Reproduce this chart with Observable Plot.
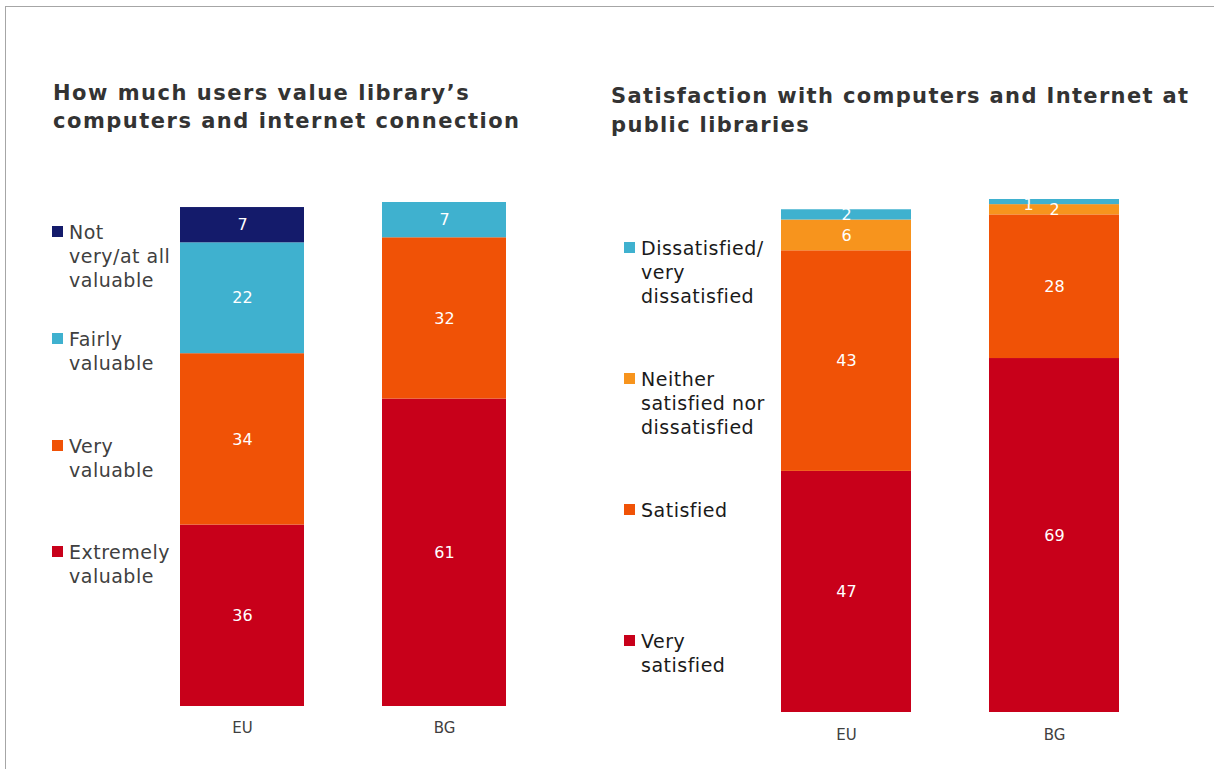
<!DOCTYPE html>
<html><head><meta charset="utf-8">
<script src="https://cdn.jsdelivr.net/npm/d3@7"></script>
<script src="https://cdn.jsdelivr.net/npm/@observablehq/plot@0.6"></script>
<style>
body{margin:0;background:#fff;font-family:"DejaVu Sans",Verdana,sans-serif;}
#wrap{position:relative;width:1214px;height:769px;overflow:hidden;background:#fff;}
.frame{position:absolute;left:5px;top:6px;width:1240px;height:820px;border-left:1.5px solid #a6a6a6;border-top:1.5px solid #a6a6a6;}
.title{position:absolute;font-weight:bold;font-size:21px;line-height:28px;color:#333;white-space:nowrap;}
.item{position:absolute;display:flex;font-size:19px;line-height:24px;white-space:nowrap;letter-spacing:0.5px;}
.sw{width:11px;height:11px;margin-top:6px;margin-right:6px;flex:none;}
.plot{position:absolute;top:0;}
</style></head>
<body>
<div id="wrap">
  <div class="frame"></div>
</div>
<script>
const countries = ["EU", "BG"];

const valueCats = ["Extremely valuable", "Very valuable", "Fairly valuable", "Not very/at all valuable"];
const valueLegend = [["Extremely", "valuable"], ["Very", "valuable"], ["Fairly", "valuable"], ["Not", "very/at all", "valuable"]];
const valueEU = [36, 34, 22, 7];
const valueBG = [61, 32, 7, 0];
const valueColors = ["#c8001a", "#f05206", "#3fb1cf", "#141b6b"];
const valueTitle = ["How much users value library’s", "computers and internet connection"];

const satCats = ["Very satisfied", "Satisfied", "Neither satisfied nor dissatisfied", "Dissatisfied/very dissatisfied"];
const satLegend = [["Very", "satisfied"], ["Satisfied"], ["Neither", "satisfied nor", "dissatisfied"], ["Dissatisfied/", "very", "dissatisfied"]];
const satEU = [47, 43, 6, 2];
const satBG = [69, 28, 2, 1];
const satColors = ["#c8001a", "#f05206", "#f7941d", "#3fb1cf"];
const satTitle = ["Satisfaction with computers and Internet at", "public libraries"];

const wrap = document.getElementById("wrap");

function chart({cats, eu, bg, colors, left, width, marginTop, marginBottom, xRange, padIn, tickPad}) {
  const rows = [];
  countries.forEach((c, i) => {
    const vals = i ? bg : eu;
    cats.forEach((k, j) => { if (vals[j] > 0) rows.push({country: c, cat: k, value: vals[j]}); });
  });
  const svg = Plot.plot({
    width, height: 769, marginTop, marginBottom, marginLeft: 0, marginRight: 0,
    style: {background: "transparent", fontFamily: "DejaVu Sans, Verdana, sans-serif", overflow: "visible"},
    x: {domain: countries, range: xRange, paddingInner: padIn, paddingOuter: 0},
    y: {domain: [0, 100], axis: null},
    color: {domain: cats, range: colors},
    marks: [
      Plot.barY(rows, Plot.stackY({x: "country", y: "value", fill: "cat"})),
      Plot.text(rows, Plot.stackY({x: "country", y: "value", text: d => d.value >= 2 ? String(d.value) : "", fill: "white", fontSize: 16})),
      Plot.text(rows, Plot.stackY({x: "country", y: "value", text: d => d.value < 2 ? String(d.value) : "", fill: "white", fontSize: 16, dx: -26, dy: 3})),
      Plot.axisX({tickSize: 0, tickPadding: tickPad, fontSize: 15, color: "#404040", label: null})
    ]
  });
  svg.classList.add("plot");
  svg.style.left = left + "px";
  svg.style.position = "absolute";
  svg.style.top = "0px";
  wrap.appendChild(svg);
}

chart({cats: valueCats, eu: valueEU, bg: valueBG, colors: valueColors, left: 0, width: 600,
  marginTop: 202, marginBottom: 63, xRange: [180, 507], padIn: 0.384, tickPad: 16});
chart({cats: satCats, eu: satEU, bg: satBG, colors: satColors, left: 600, width: 614,
  marginTop: 199, marginBottom: 57, xRange: [181, 520], padIn: 0.373, tickPad: 17});

function title(lines, left, top, lh, ls) {
  const d = document.createElement("div");
  d.className = "title";
  d.style.left = left + "px"; d.style.top = top + "px"; d.style.lineHeight = lh + "px";
  d.style.letterSpacing = ls + "px";
  d.innerHTML = lines.join("<br>");
  wrap.appendChild(d);
}
title(valueTitle, 53, 79, 28, 1.5);
title(satTitle, 611, 82, 29, 1.35);

function legend(labels, colors, left, tops, textColor) {
  labels.forEach((lines, i) => {
    const it = document.createElement("div");
    it.className = "item";
    it.style.left = left + "px"; it.style.top = tops[i] + "px"; it.style.color = textColor;
    const sw = document.createElement("div");
    sw.className = "sw"; sw.style.background = colors[i];
    const tx = document.createElement("div");
    tx.innerHTML = lines.join("<br>");
    it.appendChild(sw); it.appendChild(tx);
    wrap.appendChild(it);
  });
}
legend(valueLegend, valueColors, 52, [540, 434, 327, 220], "#404040");
legend(satLegend, satColors, 624, [629, 498, 367, 236], "#1a1a1a");
</script>
</body></html>
